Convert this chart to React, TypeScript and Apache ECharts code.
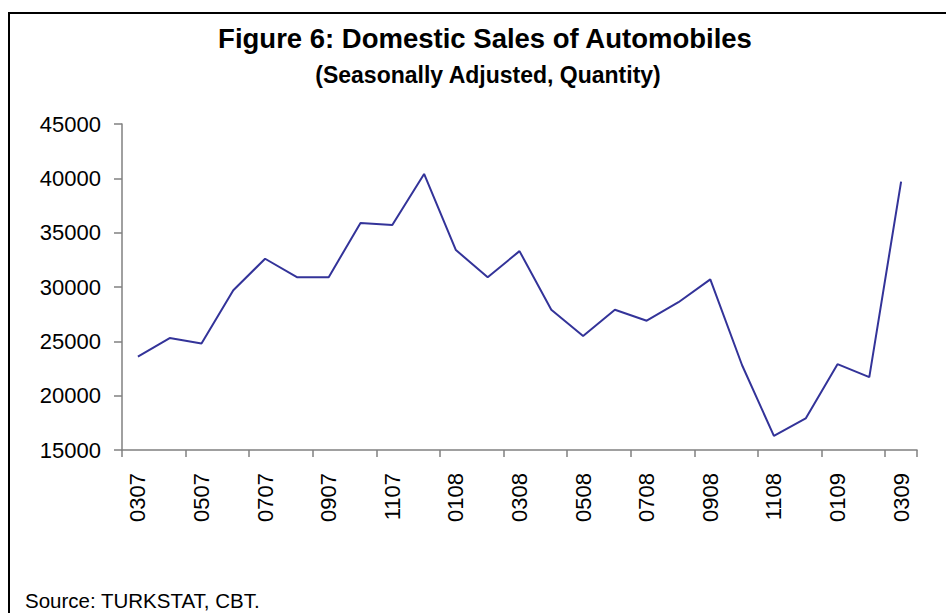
import React, { useEffect, useRef } from "react";
import * as echarts from "echarts";

const categories = [
  "0307", "0407", "0507", "0607", "0707", "0807", "0907", "1007", "1107", "1207",
  "0108", "0208", "0308", "0408", "0508", "0608", "0708", "0808", "0908", "1008",
  "1108", "1208", "0109", "0209", "0309",
];

const sales = [
  23600, 25300, 24800, 29700, 32600, 30900, 30900, 35900, 35700, 40400,
  33400, 30900, 33300, 27900, 25500, 27900, 26900, 28600, 30700, 22800,
  16300, 17900, 22900, 21700, 39700,
];

const titleText = "Figure 6: Domestic Sales of Automobiles";
const subtitleText = "(Seasonally Adjusted, Quantity)";
const sourceText = "Source: TURKSTAT, CBT.";

const FONT = 'Arial, "Liberation Sans", sans-serif';

export default function App() {
  const ref = useRef<HTMLDivElement>(null);

  useEffect(() => {
    if (!ref.current) return;
    const chart = echarts.init(ref.current, undefined, { renderer: "svg" });
    chart.setOption({
      animation: false,
      backgroundColor: "#ffffff",
      grid: { left: 122, right: 29, top: 124, bottom: 163, containLabel: false },
      xAxis: {
        type: "category",
        data: categories,
        boundaryGap: true,
        axisLine: { show: true, lineStyle: { color: "#808080", width: 1.5 } },
        axisTick: { show: true, interval: 1, length: 7, lineStyle: { color: "#808080", width: 1.5 } },
        axisLabel: {
          interval: 1,
          rotate: 90,
          margin: 23,
          color: "#000000",
          fontSize: 22,
          fontFamily: FONT,
        },
        splitLine: { show: false },
      },
      yAxis: {
        type: "value",
        min: 15000,
        max: 45000,
        interval: 5000,
        axisLine: { show: true, lineStyle: { color: "#808080", width: 1.5 } },
        axisTick: { show: true, length: 8, lineStyle: { color: "#808080", width: 1.5 } },
        axisLabel: {
          margin: 21,
          color: "#000000",
          fontSize: 22,
          fontFamily: FONT,
          formatter: (v: number) => String(v),
        },
        splitLine: { show: false },
      },
      series: [
        {
          type: "line",
          data: sales,
          symbol: "none",
          lineStyle: { color: "#333399", width: 2 },
        },
      ],
      graphic: [
        {
          type: "rect",
          shape: { x: 9, y: 13, width: 1000, height: 700 },
          style: { fill: "none", stroke: "#000000", lineWidth: 2 },
          silent: true,
        },
        {
          type: "text",
          x: 485,
          y: 38,
          style: {
            text: titleText,
            fill: "#000000",
            font: `bold 27.5px ${FONT}`,
            align: "center",
            verticalAlign: "middle",
          },
        },
        {
          type: "text",
          x: 488,
          y: 75,
          style: {
            text: subtitleText,
            fill: "#000000",
            font: `bold 23px ${FONT}`,
            align: "center",
            verticalAlign: "middle",
          },
        },
        {
          type: "text",
          x: 25,
          y: 600,
          style: {
            text: sourceText,
            fill: "#000000",
            font: `20.5px ${FONT}`,
            align: "left",
            verticalAlign: "middle",
          },
        },
      ],
    });
    return () => chart.dispose();
  }, []);

  return (
    <div
      ref={ref}
      style={{ position: "fixed", left: 0, top: 0, width: 946, height: 613, background: "#fff" }}
    />
  );
}
